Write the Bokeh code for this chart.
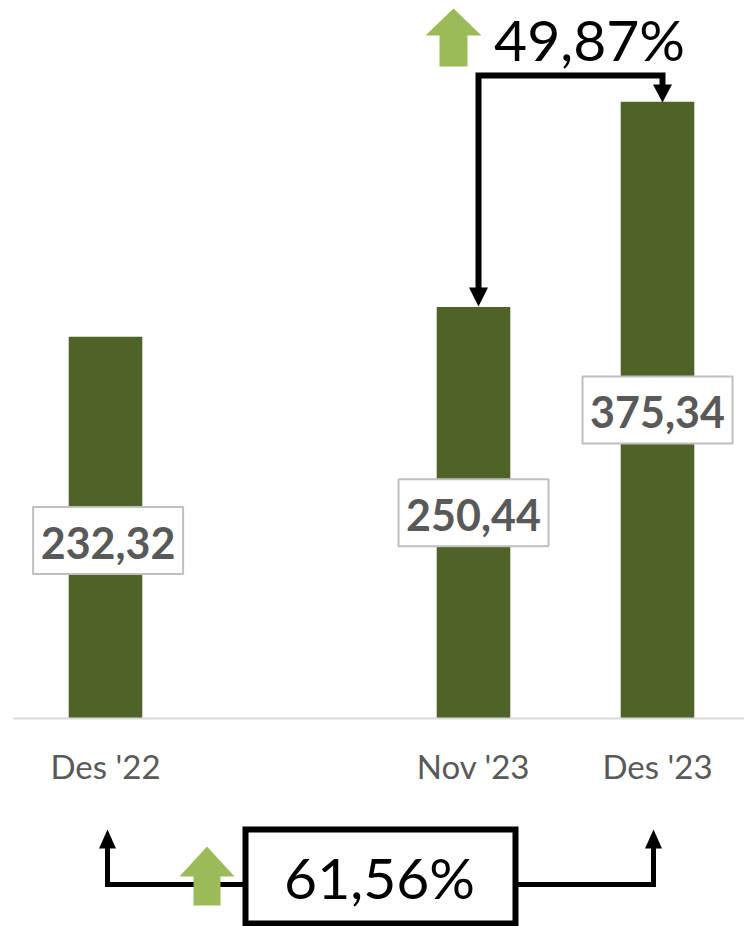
from bokeh.plotting import figure
from bokeh.models import Range1d, FixedTicker
from bokeh.core.properties import value
from bokeh.embed import file_html
from bokeh.resources import INLINE

# chart values
categories = ["Des '22", "Nov '23", "Des '23"]
slots = [0, 2, 3]
values = [232.32, 250.44, 375.34]
label_slots = [0.014, 2, 3]
label_anchor = [108.3, 125.2, 187.7]
labels = ["232,32", "250,44", "375,34"]
change_recent = "49,87%"
change_yearly = "61,56%"

W, H = 744, 926
BAR = "#4f6228"
GREEN = "#9bbb59"
GREY = "#595959"
FONT = "Lato"

p = figure(width=W, height=H, output_backend="svg", toolbar_location=None,
           x_range=Range1d(-0.5707, 3.4728), y_range=Range1d(-126.6, 437.0),
           min_border=0, outline_line_color=None, background_fill_color="white",
           margin=(0, 0, 0, 0))
p.grid.visible = False
p.yaxis.visible = False

# screen-like coordinates for the hand-drawn callouts
p.extra_x_ranges["px"] = Range1d(0, W)
p.extra_y_ranges["px"] = Range1d(H, 0)
px = dict(x_range_name="px", y_range_name="px")

ax = p.xaxis[0]
ax.fixed_location = 0
ax.bounds = (-0.5, 3.4728)
ax.ticker = FixedTicker(ticks=slots)
ax.major_label_overrides = {s: c for s, c in zip(slots, categories)}
ax.major_tick_line_color = None
ax.minor_tick_line_color = None
ax.axis_line_color = "#d9d9d9"
ax.axis_line_width = 2
ax.major_label_standoff = 22
ax.major_label_text_font = FONT
ax.major_label_text_font_size = "33px"
ax.major_label_text_color = GREY

p.vbar(x=slots, top=values, bottom=0, width=0.4, fill_color=BAR, line_color=None)

# data labels
p.rect(x=label_slots, y=label_anchor, width=150, height=67, width_units="screen", height_units="screen",
       fill_color="white", line_color="#bfbfbf", line_width=2)
p.text(x=label_slots, y=label_anchor, text=labels, text_align="center", text_baseline="middle",
       text_font=value(FONT), text_font_style="bold", text_font_size="43px", text_color=GREY, y_offset=2)

def head(x, y_tip, y_base, half):
    p.patch([x - half, x, x + half], [y_base, y_tip, y_base], fill_color="black", line_color=None, **px)

def up_arrow(xl, xr, sl, sr, tip, shoulder, bottom):
    p.patch([xl, (xl + xr) / 2, xr, sr, sr, sl, sl],
            [shoulder, tip, shoulder, shoulder, bottom, bottom, shoulder],
            fill_color=GREEN, line_color=None, **px)

# top callout
p.line([478, 478, 662, 662], [290, 75, 75, 88], line_color="black", line_width=6,
       line_join="miter", **px)
head(478, 306, 287, 9.5)
head(662, 102, 84, 9.5)
up_arrow(425, 481, 439, 467, 8, 35, 66)
p.text(x=[589], y=[38], text=[change_recent], text_align="center", text_baseline="middle",
       text_font=value(FONT), text_font_size="57px", text_color="black", **px)

# bottom callout
p.line([107, 107, 245], [846, 884, 884], line_color="black", line_width=5, line_join="miter", **px)
p.line([515, 653, 653], [884, 884, 846], line_color="black", line_width=5, line_join="miter", **px)
head(107, 829, 848, 8.5)
head(653, 829, 848, 8.5)
p.quad(left=[245], right=[515], top=[829], bottom=[923], fill_color="white", line_color="black",
       line_width=6, line_join="miter", **px)
up_arrow(179, 234, 193, 220, 846, 876, 905)
p.text(x=[379], y=[876], text=[change_yearly], text_align="center", text_baseline="middle",
       text_font=value(FONT), text_font_size="57px", text_color="black", **px)

open("out.html", "w").write(file_html(p, INLINE))
